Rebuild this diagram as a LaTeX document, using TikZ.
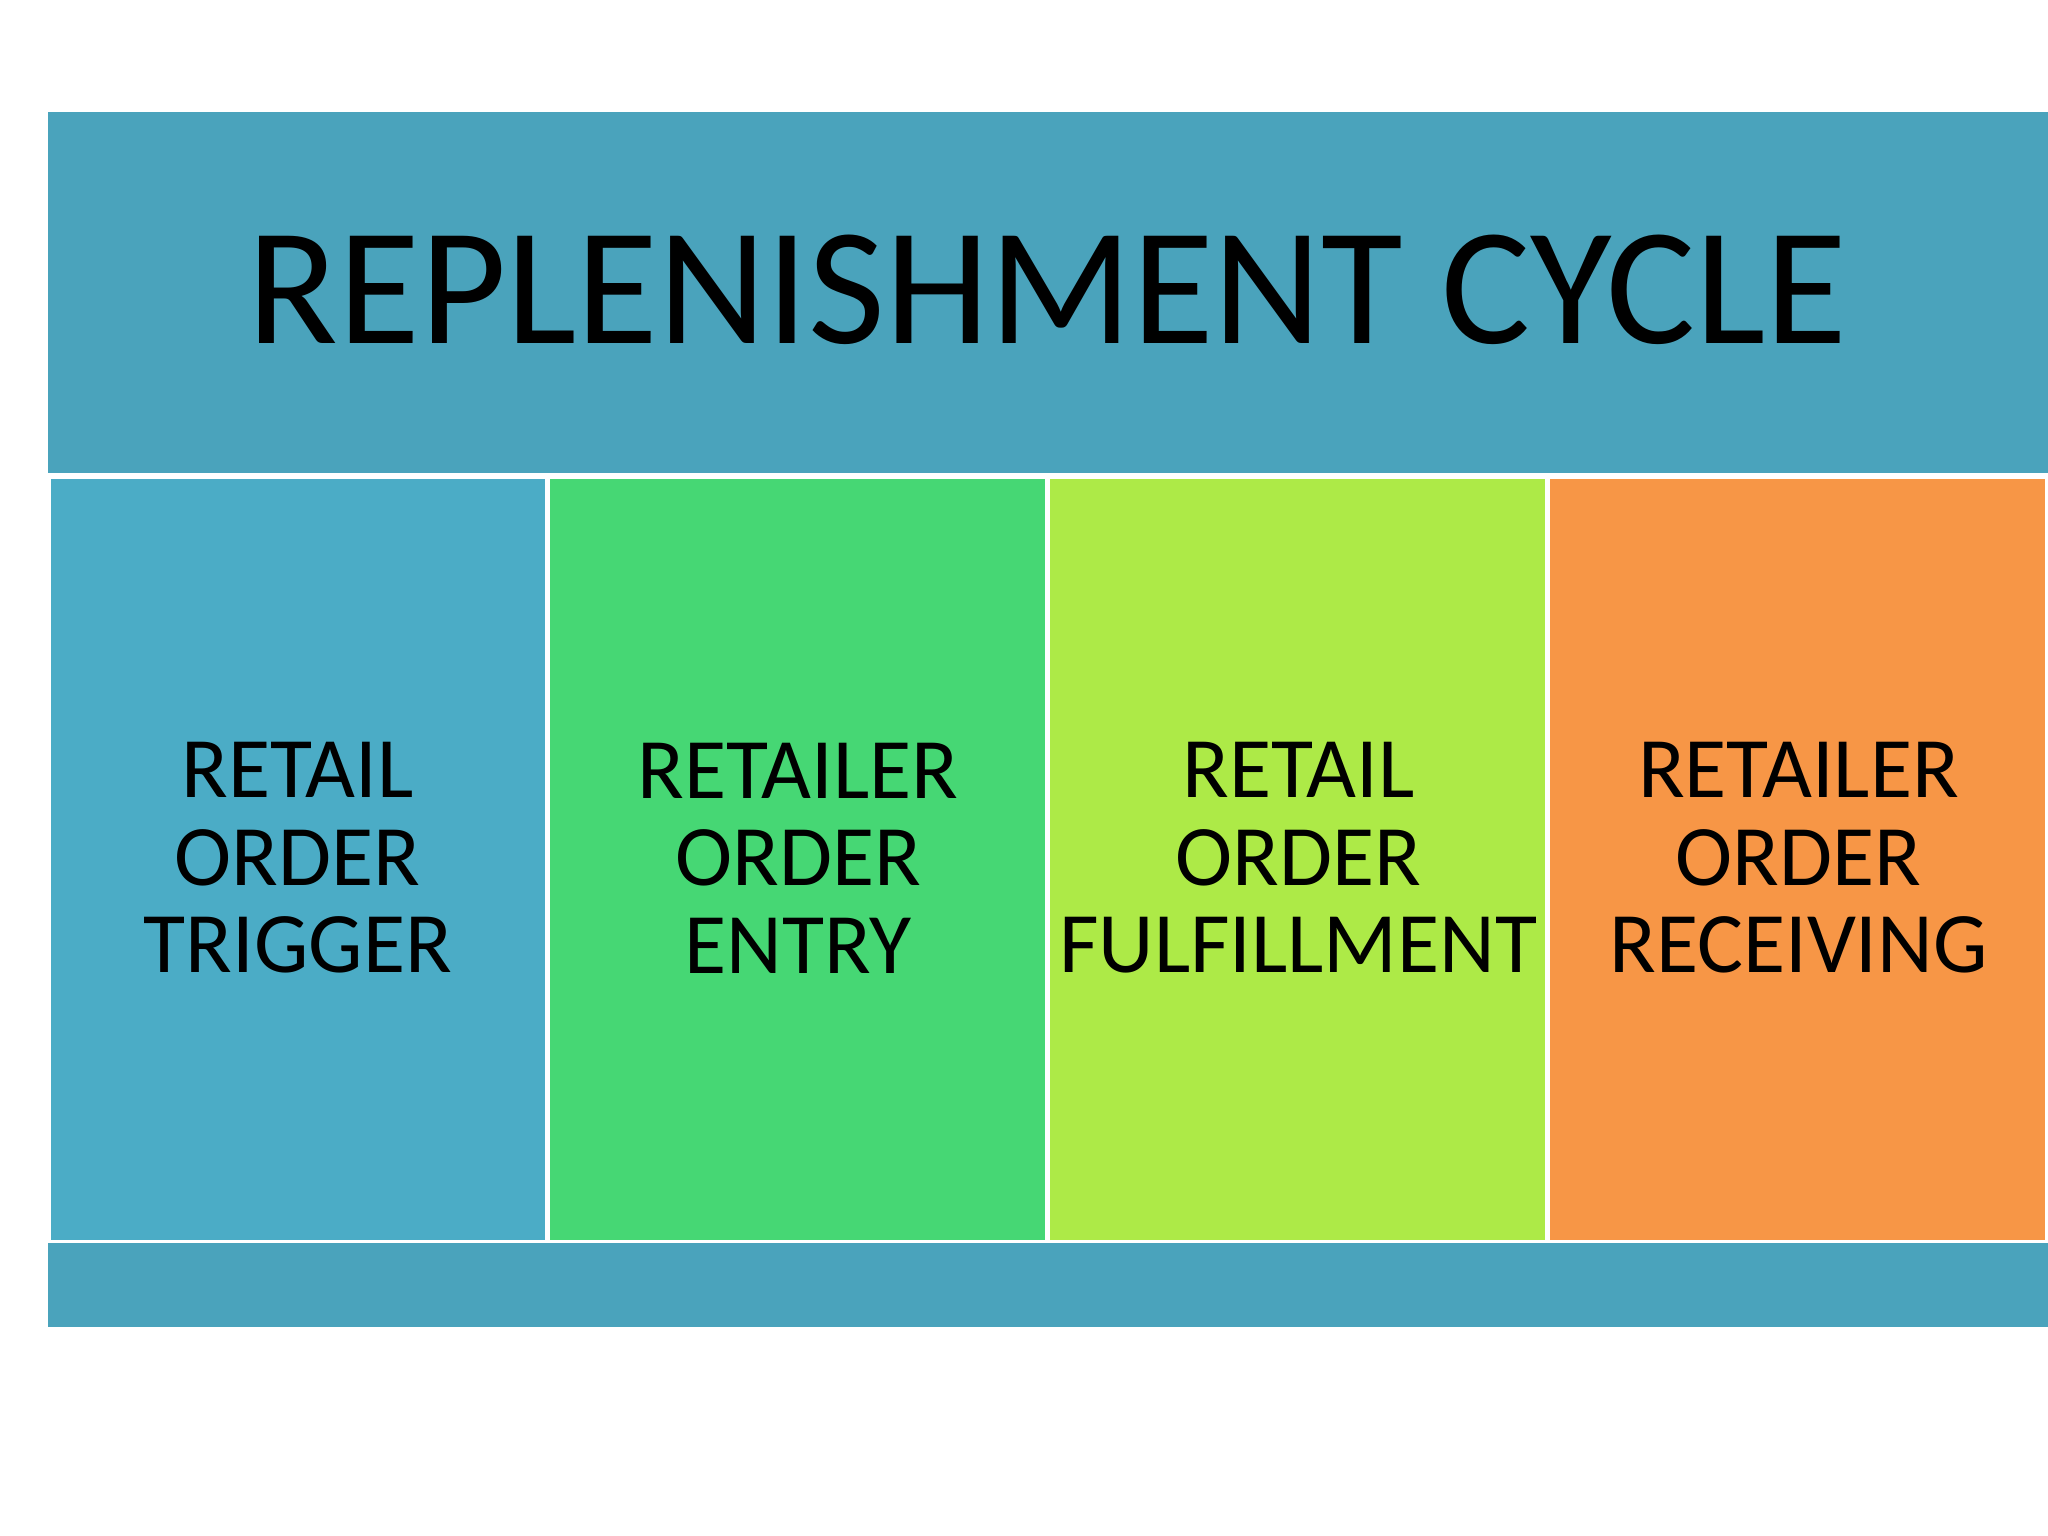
\documentclass[tikz,border=0pt]{standalone}
\usepackage{fontspec}
\setmainfont{Carlito}
\definecolor{band}{HTML}{4AA3BC}
\definecolor{cA}{HTML}{4BACC6}
\definecolor{cB}{HTML}{46D774}
\definecolor{cC}{HTML}{ADEA47}
\definecolor{cD}{HTML}{F79646}
\begin{document}
\begin{tikzpicture}[x=0.5pt,y=-0.5pt,
  col/.style={inner sep=0pt,align=center,font=\fontsize{33}{33.5}\selectfont,text=black}]
\useasboundingbox[fill=white] (0,0) rectangle (1568,1176);
\fill[band] (37,86) rectangle (1568,362);
\node[font=\fontsize{64}{64}\selectfont] (title) at (802,222) {REPLENISHMENT CYCLE};
\fill[cA] (39,367) rectangle (417,949);
\fill[cB] (421,367) rectangle (800,949);
\fill[cC] (804,367) rectangle (1183,949);
\fill[cD] (1187,367) rectangle (1566,949);
\node[col] (a) at (228,657) {RETAIL\\ORDER\\TRIGGER};
\node[col] (b) at (611,657) {RETAILER\\ORDER\\ENTRY};
\node[col] (c) at (994,657) {RETAIL\\ORDER\\FULFILLMENT};
\node[col] (d) at (1377,657) {RETAILER\\ORDER\\RECEIVING};
\fill[band] (37,952) rectangle (1568,1016);
\end{tikzpicture}
\end{document}
